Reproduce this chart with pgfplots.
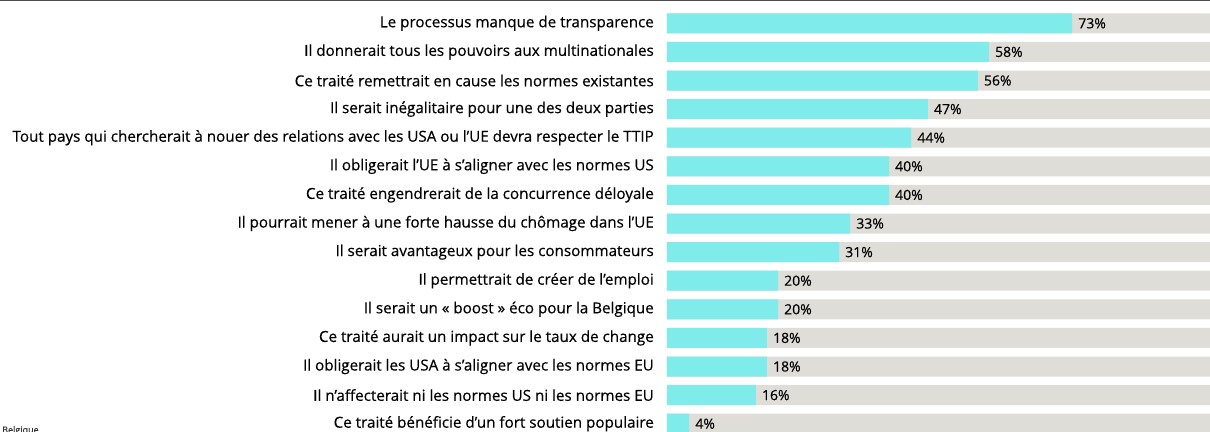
\documentclass[border=0pt]{standalone}
\usepackage{pgfplots}
\pgfplotsset{compat=1.18}
\usepackage{fontspec}
\setmainfont{Open Sans}[FakeBold=0.4]
\definecolor{cy}{HTML}{80EBEB}
\definecolor{gr}{HTML}{DEDDD7}
\begin{document}
\begin{tikzpicture}[x=1pt,y=1pt]
\clip (0,0) rectangle (1210,431);
\begin{axis}[
  at={(667pt,0pt)}, anchor=south west,
  scale only axis, width=543pt, height=431pt,
  xmin=0, xmax=97.84,
  ymin=-0.815, ymax=14.255, y dir=reverse,
  axis line style={draw=none}, xtick=\empty,
  ytick={0,...,14}, major tick length=0pt,
  /pgf/number format/assume math mode=true,
  yticklabels={
    Le processus manque de transparence,
    Il donnerait tous les pouvoirs aux multinationales,
    Ce traité remettrait en cause les normes existantes,
    Il serait inégalitaire pour une des deux parties,
    Tout pays qui chercherait à nouer des relations avec les USA ou l’UE devra respecter le TTIP,
    Il obligerait l’UE à s’aligner avec les normes US,
    Ce traité engendrerait de la concurrence déloyale,
    Il pourrait mener à une forte hausse du chômage dans l’UE,
    Il serait avantageux pour les consommateurs,
    Il permettrait de créer de l’emploi,
    Il serait un « boost » éco pour la Belgique,
    Ce traité aurait un impact sur le taux de change,
    Il obligerait les USA à s’aligner avec les normes EU,
    Il n’affecterait ni les normes US ni les normes EU,
    Ce traité bénéficie d’un fort soutien populaire},
  yticklabel style={font=\fontsize{15.2}{16}\selectfont, anchor=east, inner sep=0pt, xshift=-13pt, text=black},
  xbar, bar width=20pt, bar shift=0pt,
  clip=true,
]
\addplot[fill=gr, draw=none] coordinates {(100,0) (100,1) (100,2) (100,3) (100,4) (100,5) (100,6) (100,7) (100,8) (100,9) (100,10) (100,11) (100,12) (100,13) (100,14)};
\addplot[fill=cy, draw=none, point meta=x,
  nodes near coords={\pgfmathprintnumber{\pgfplotspointmeta}\%},
  nodes near coords style={font=\fontsize{14}{15}\selectfont, anchor=west, inner sep=0pt, xshift=6pt, text=black}]
  coordinates {(73,0) (58,1) (56,2) (47,3) (44,4) (40,5) (40,6) (33,7) (31,8) (20,9) (20,10) (18,11) (18,12) (16,13) (4,14)};
\end{axis}
\draw[line width=2pt, color=black!70] (0,430.5) -- (1210,430.5);
\node[anchor=north west, inner sep=0pt, font=\fontsize{9}{9}\selectfont, text=black!80] at (2,5) {Belgique};
\end{tikzpicture}
\end{document}
